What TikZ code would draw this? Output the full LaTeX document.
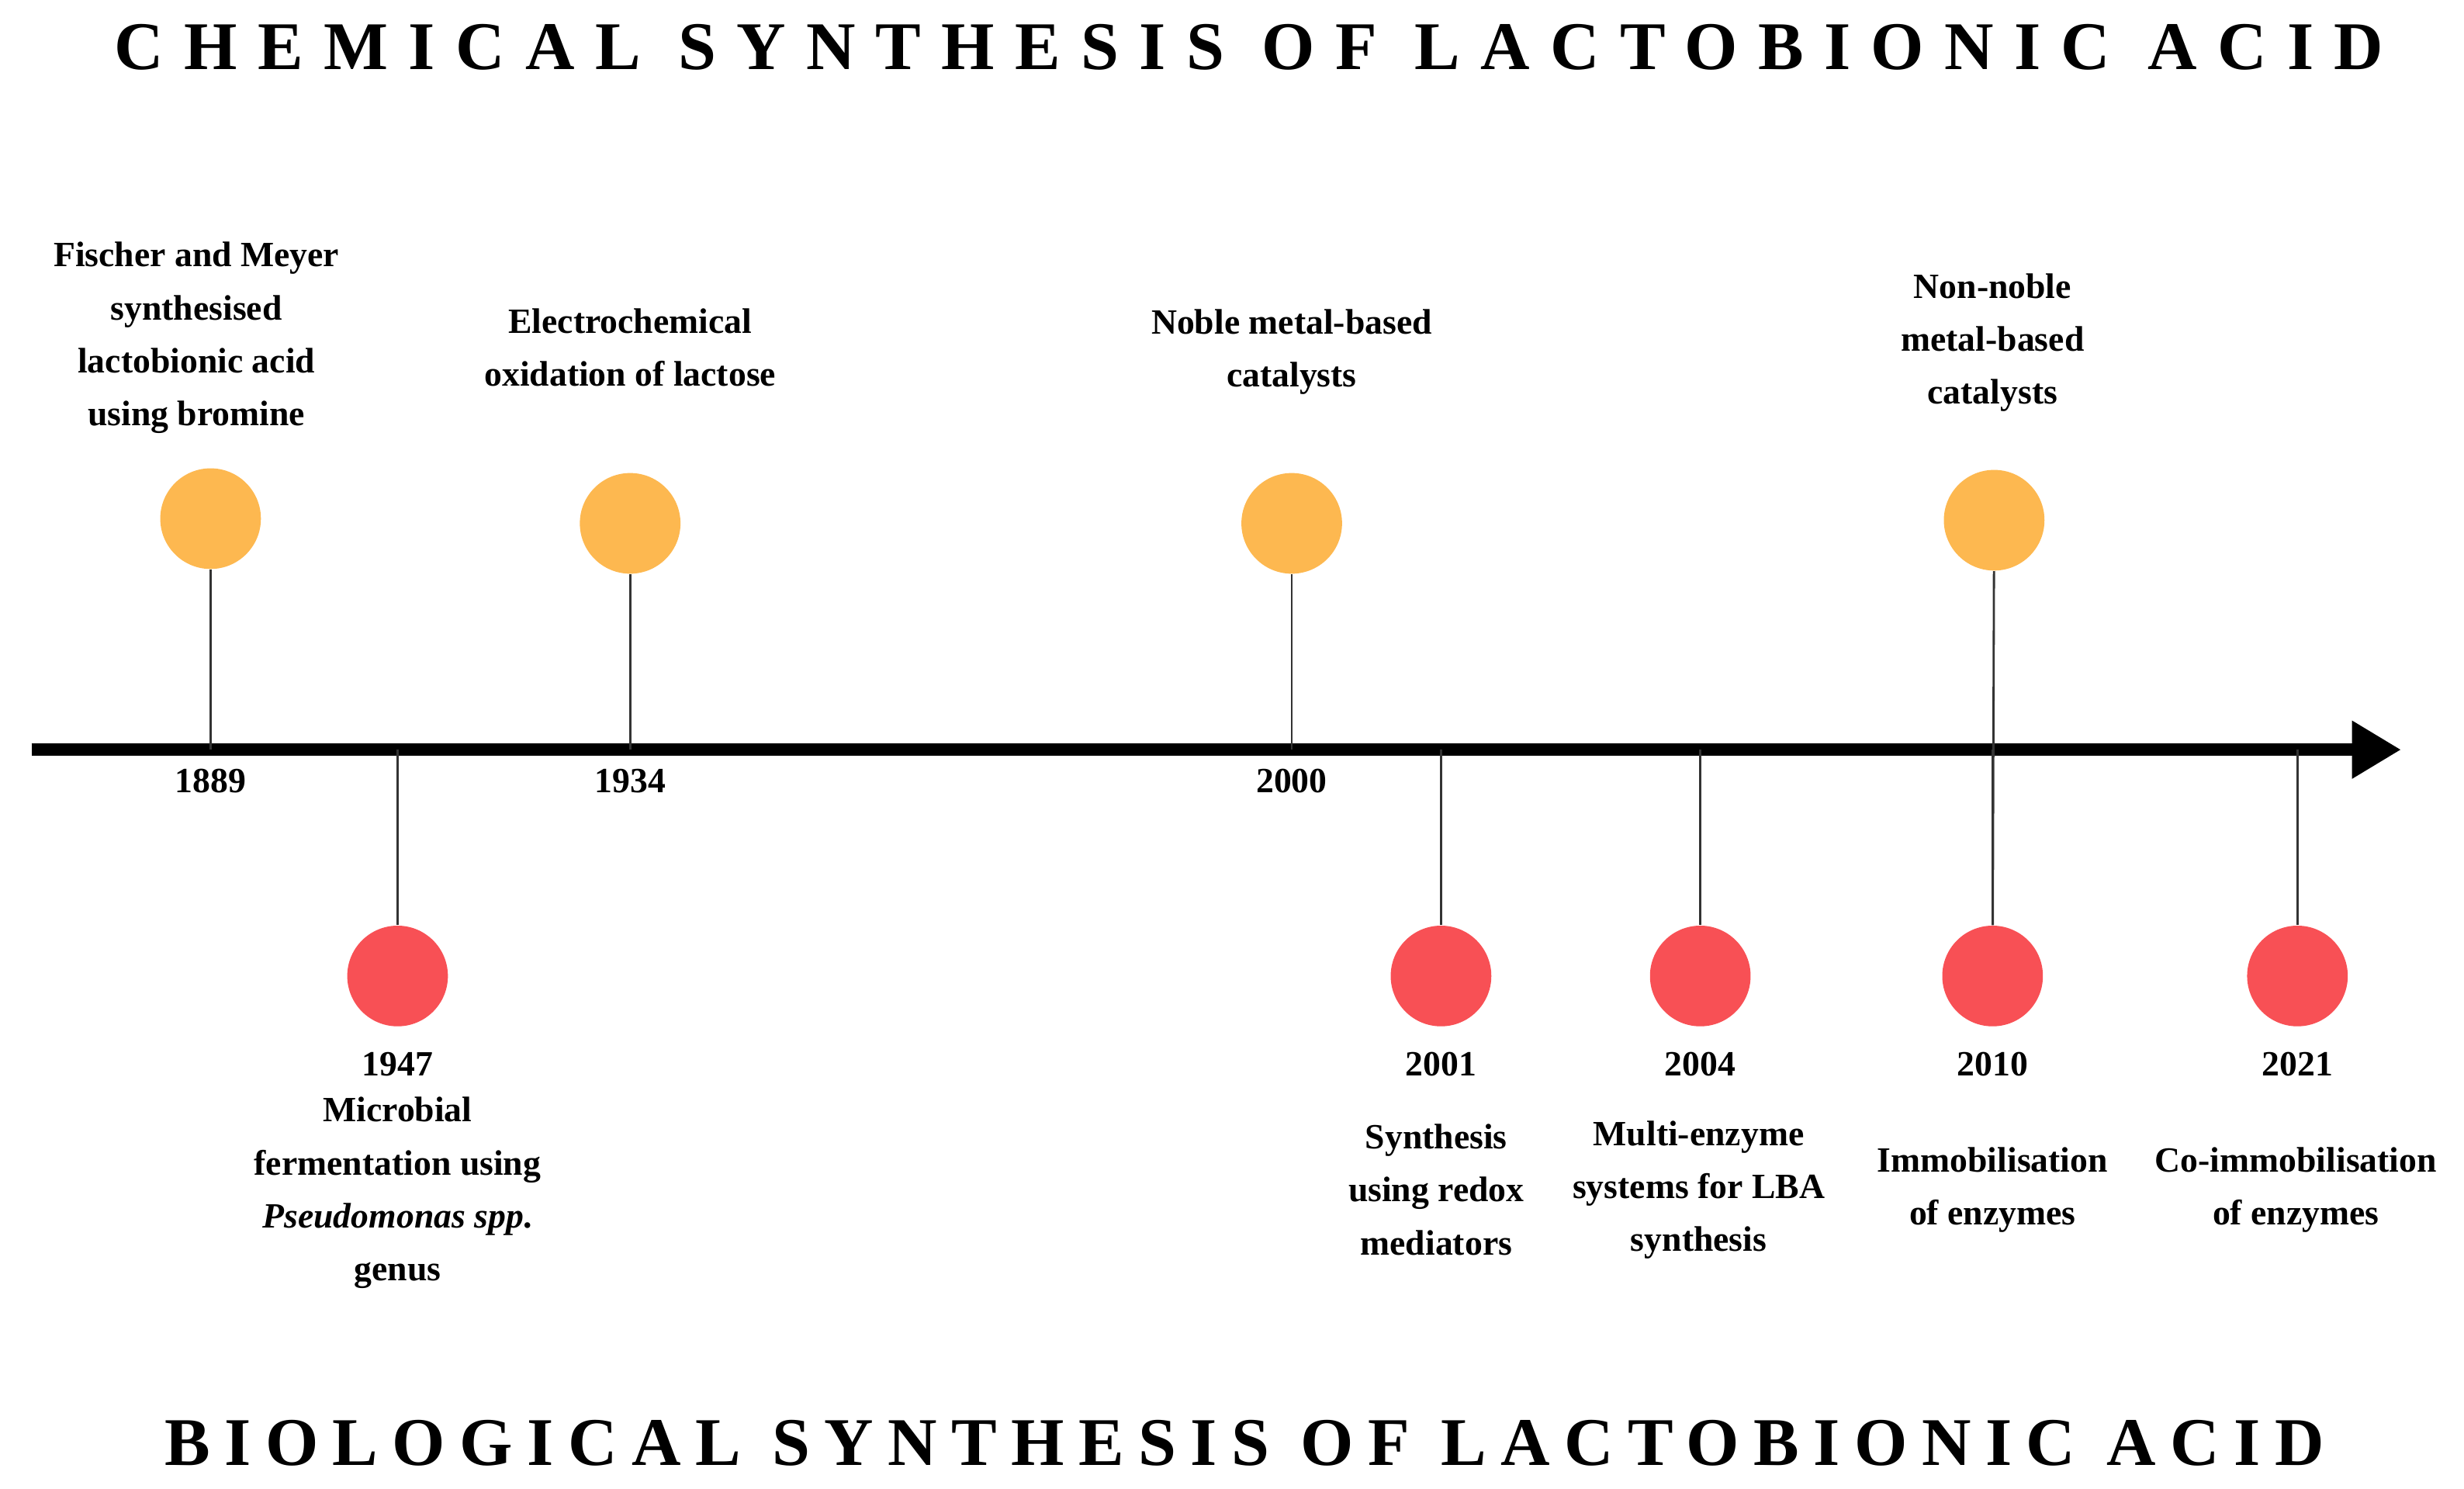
\documentclass[tikz,border=0pt]{standalone}
\usetikzlibrary{arrows.meta}
\usepackage{fontspec}
\setmainfont{Liberation Serif}
\newfontfamily\titlefontA[LetterSpace=30]{Liberation Serif}
\newfontfamily\titlefontB[LetterSpace=21]{Liberation Serif}
\begin{document}
\begin{tikzpicture}[x=0.020255cm,y=-0.020255cm,
  lbl/.style={font=\bfseries\fontsize{13}{19.4}\selectfont,align=center,inner sep=0pt},
  yr/.style={font=\bfseries\fontsize{13}{15}\selectfont,inner sep=0pt},
  orng/.style={circle,fill={rgb,255:red,253;green,184;blue,80},minimum size=0.02026cm*64,inner sep=0pt},
  redc/.style={circle,fill={rgb,255:red,248;green,80;blue,85},minimum size=0.02026cm*64,inner sep=0pt},
  stem/.style={line width=0.8pt,black!80}]
\useasboundingbox (0,0) rectangle (1568,947);
\node[font=\titlefontA\bfseries\fontsize{25}{28}\selectfont,inner sep=0pt] (t1) at (795,30) {CHEMICAL SYNTHESIS OF LACTOBIONIC ACID};
\node[font=\titlefontB\bfseries\fontsize{25}{28}\selectfont,inner sep=0pt] (t2) at (792,918) {BIOLOGICAL SYNTHESIS OF LACTOBIONIC ACID};
\coordinate (a0) at (20,477);
\coordinate (a1) at (1528,477);
\draw[line width=4.6pt,-{Triangle[length=18pt,width=20pt]}] (a0) -- (a1);
% chemical
\foreach \n/\x/\y/\yr in {c1/134/330/1889,c2/401/333/1934,c3/822/333/2000}{
  \node[orng] (\n) at (\x,\y) {};
  \coordinate (\n a) at (\x,477);
  \draw[stem] (\n) -- (\n a);
  \node[yr] (\n y) at (\x,497) {\yr};
}
\node[orng] (c4) at (1269,331) {};
% biological
\foreach \n/\x/\yr in {b1/253/1947,b2/917/2001,b3/1082/2004,b4/1268/2010,b5/1462/2021}{
  \node[redc] (\n) at (\x,621) {};
  \coordinate (\n a) at (\x,477);
  \draw[stem] (\n a) -- (\n);
  \node[yr] (\n y) at (\x,677) {\yr};
}
\draw[stem] (c4) -- (b4);
\node[lbl] (l1) at (125,215) {Fischer and Meyer\\synthesised\\lactobionic acid\\using bromine};
\node[lbl] (l2) at (401,221) {Electrochemical\\oxidation of lactose};
\node[lbl] (l3) at (822,224) {Noble metal-based\\catalysts};
\node[lbl] (l4) at (1268,218) {Non-noble\\metal-based\\catalysts};
\node[lbl] (l5) at (253,759) {Microbial\\fermentation using\\\textit{Pseudomonas spp}.\\genus};
\node[lbl] (l6) at (914,757) {Synthesis\\using redox\\mediators};
\node[lbl] (l7) at (1081,757) {Multi-enzyme\\systems for LBA\\synthesis};
\node[lbl] (l8) at (1268,757) {Immobilisation\\of enzymes};
\node[lbl] (l9) at (1461,757) {Co-immobilisation\\of enzymes};
\end{tikzpicture}
\end{document}
